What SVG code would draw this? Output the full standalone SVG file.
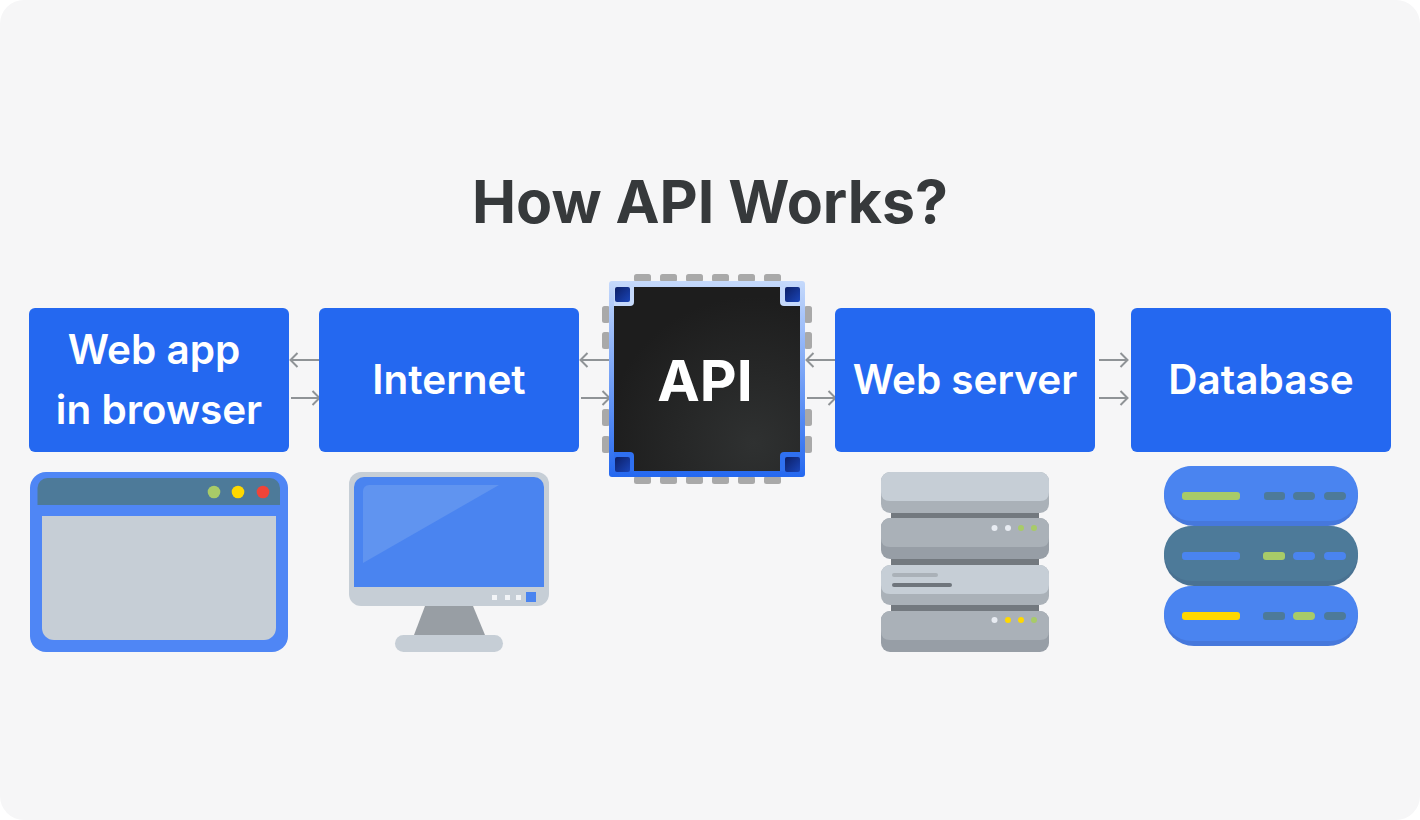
<svg xmlns="http://www.w3.org/2000/svg" width="1420" height="820" viewBox="0 0 1420 820">
<style>
text{font-family:Inter,"Liberation Sans",sans-serif;text-anchor:middle}
.t{font-weight:600;font-size:40.500px;fill:#fff}
.box{fill:#2468f0}
.pad{fill:#a9a9a9}
.conn{fill:none;stroke:#8f9396;stroke-width:2}
.su{fill:#aab1b8}.sd{fill:#979ea6}.lu{fill:#c6ced6}.ld{fill:#aab1b8}.sc{fill:#73797f}
.w{fill:#e8ecf2}.g{fill:#a8cb68}.y{fill:#ffd800}
.tl{fill:#4d7a99}.bl{fill:#4a84f0}
</style>
<defs>
<marker id="a" viewBox="0 0 10 16" markerWidth="10" markerHeight="16" refX="9" refY="8" orient="auto-start-reverse" markerUnits="userSpaceOnUse"><path d="M1.500 1L8.500 8L1.500 15" fill="none" stroke="#8f9396" stroke-width="2"/></marker>
<linearGradient id="rim" x1="0" y1="0" x2="0" y2="1"><stop offset="0" stop-color="#c5d9fb"/><stop offset="1" stop-color="#2468f0"/></linearGradient>
<radialGradient id="core" cx="0.75" cy="0.85" r="0.8"><stop offset="0" stop-color="#2f3131"/><stop offset="1" stop-color="#1d1d1d"/></radialGradient>
<linearGradient id="chipd" x1="0" y1="0" x2="1" y2="1"><stop offset="0" stop-color="#0c1f66"/><stop offset="1" stop-color="#1a45b8"/></linearGradient>
</defs>
<rect x="0" y="0" width="1420" height="820" rx="24" fill="#f6f6f7"/>
<text x="710" y="223" font-size="59" font-weight="700" fill="#36393b">How API Works?</text>
<g id="connectors" class="conn">
<path d="M319 360H290" marker-end="url(#a)"/>
<path d="M291 398H320" marker-end="url(#a)"/>
<path d="M609 360H580" marker-end="url(#a)"/>
<path d="M581 398H610" marker-end="url(#a)"/>
<path d="M835 360H806" marker-end="url(#a)"/>
<path d="M807 398H836" marker-end="url(#a)"/>
<path d="M1099 360H1128" marker-end="url(#a)"/>
<path d="M1099 398H1128" marker-end="url(#a)"/>
</g>
<g id="webapp">
<rect class="box" x="29" y="308" width="260" height="144" rx="6"/>
<text class="t" x="154" y="364">Web app</text>
<text class="t" x="159" y="424">in browser</text>
<rect x="30" y="472" width="258" height="180" rx="16" fill="#4f86f5"/>
<path d="M37.500 505V488A10 10 0 0 1 47.500 478H270A10 10 0 0 1 280 488V505Z" class="tl"/>
<path d="M42 516H276V628A12 12 0 0 1 264 640H54A12 12 0 0 1 42 628Z" fill="#c6ced6"/>
<circle cx="214" cy="492" r="6.300" class="g"/>
<circle cx="238" cy="492" r="6.300" class="y"/>
<circle cx="263" cy="492" r="6.300" fill="#f04438"/>
</g>
<g id="internet">
<rect class="box" x="319" y="308" width="260" height="144" rx="6"/>
<text class="t" x="449" y="394">Internet</text>
<path d="M425 606H473L485 635H414Z" fill="#989ea4"/>
<rect x="395" y="635" width="108" height="17" rx="8.500" fill="#c6ced6"/>
<rect x="349" y="472" width="200" height="134" rx="12" fill="#c6ced6"/>
<path d="M354 587V487A10 10 0 0 1 364 477H534A10 10 0 0 1 544 487V587Z" class="bl"/>
<path d="M363 491A6 6 0 0 1 369 485H499L363 563Z" fill="#6094f0"/>
<rect x="492" y="595" width="5" height="5" fill="#f2f4f7"/>
<rect x="505" y="595" width="5" height="5" fill="#f2f4f7"/>
<rect x="516" y="595" width="5" height="5" fill="#f2f4f7"/>
<rect x="526" y="592" width="10" height="10" class="bl"/>
</g>
<g id="api">
<g class="pad">
<rect x="634" y="274" width="17" height="8" rx="2.500"/><rect x="660" y="274" width="17" height="8" rx="2.500"/><rect x="686" y="274" width="17" height="8" rx="2.500"/><rect x="712" y="274" width="17" height="8" rx="2.500"/><rect x="738" y="274" width="17" height="8" rx="2.500"/><rect x="764" y="274" width="17" height="8" rx="2.500"/>
<rect x="634" y="476" width="17" height="8" rx="2.500"/><rect x="660" y="476" width="17" height="8" rx="2.500"/><rect x="686" y="476" width="17" height="8" rx="2.500"/><rect x="712" y="476" width="17" height="8" rx="2.500"/><rect x="738" y="476" width="17" height="8" rx="2.500"/><rect x="764" y="476" width="17" height="8" rx="2.500"/>
<rect x="602" y="306" width="8" height="17" rx="2.500"/><rect x="602" y="332" width="8" height="17" rx="2.500"/><rect x="602" y="409" width="8" height="17" rx="2.500"/><rect x="602" y="436" width="8" height="17" rx="2.500"/>
<rect x="804" y="306" width="8" height="17" rx="2.500"/><rect x="804" y="332" width="8" height="17" rx="2.500"/><rect x="804" y="409" width="8" height="17" rx="2.500"/><rect x="804" y="436" width="8" height="17" rx="2.500"/>
</g>
<rect x="609" y="281" width="196" height="196" rx="3" fill="url(#rim)"/>
<rect x="614" y="287" width="186" height="184" fill="url(#core)"/>
<path d="M614 287H634V302A4 4 0 0 1 630 306H614Z" fill="#c5d9fb"/>
<path d="M800 287H780V302A4 4 0 0 0 784 306H800Z" fill="#c5d9fb"/>
<path d="M614 471H634V456A4 4 0 0 0 630 452H614Z" fill="#2f70f0"/>
<path d="M800 471H780V456A4 4 0 0 1 784 452H800Z" fill="#2f70f0"/>
<rect x="615" y="287" width="15" height="15" rx="2" fill="url(#chipd)"/>
<rect x="785" y="287" width="15" height="15" rx="2" fill="url(#chipd)"/>
<rect x="615" y="457" width="15" height="15" rx="2" fill="url(#chipd)"/>
<rect x="785" y="457" width="15" height="15" rx="2" fill="url(#chipd)"/>
<text x="705" y="401" font-size="57" font-weight="700" fill="#fff">API</text>
</g>
<g id="webserver">
<rect class="box" x="835" y="308" width="260" height="144" rx="6"/>
<text class="t" x="965" y="394">Web server</text>
<rect class="sc" x="891" y="513" width="148" height="6"/>
<rect class="sc" x="891" y="559" width="148" height="6"/>
<rect class="sc" x="891" y="605" width="148" height="6"/>
<rect class="ld" x="881" y="472" width="168" height="41" rx="9"/>
<path class="lu" d="M881 481A9 9 0 0 1 890 472H1040A9 9 0 0 1 1049 481V492Q1049 501 1040 501H890Q881 501 881 492Z"/>
<rect class="sd" x="881" y="518" width="168" height="41" rx="9"/>
<path class="su" d="M881 527A9 9 0 0 1 890 518H1040A9 9 0 0 1 1049 527V538Q1049 547 1040 547H890Q881 547 881 538Z"/>
<rect class="ld" x="881" y="565" width="168" height="40" rx="9"/>
<path class="lu" d="M881 574A9 9 0 0 1 890 565H1040A9 9 0 0 1 1049 574V585Q1049 594 1040 594H890Q881 594 881 585Z"/>
<rect class="sd" x="881" y="611" width="168" height="41" rx="9"/>
<path class="su" d="M881 620A9 9 0 0 1 890 611H1040A9 9 0 0 1 1049 620V631Q1049 640 1040 640H890Q881 640 881 631Z"/>
<rect x="892" y="573" width="46" height="4" rx="2" fill="#aab1b8"/>
<rect x="892" y="583" width="60" height="4" rx="2" fill="#6f757c"/>
<circle class="w" cx="994.500" cy="528" r="3"/><circle class="w" cx="1008" cy="528" r="3"/><circle class="g" cx="1021" cy="528" r="3"/><circle class="g" cx="1034" cy="528" r="3"/>
<circle class="w" cx="994.500" cy="620" r="3"/><circle class="y" cx="1008" cy="620" r="3"/><circle class="y" cx="1021" cy="620" r="3"/><circle class="g" cx="1034" cy="620" r="3"/>
</g>
<g id="database">
<rect class="box" x="1131" y="308" width="260" height="144" rx="6"/>
<text class="t" x="1261" y="394">Database</text>
<rect x="1164" y="466" width="194" height="60" rx="30" fill="#4678dc"/>
<rect class="bl" x="1164" y="466" width="194" height="55" rx="27.500"/>
<rect x="1164" y="586" width="194" height="60" rx="30" fill="#4678dc"/>
<rect class="bl" x="1164" y="586" width="194" height="55" rx="27.500"/>
<rect x="1164" y="526" width="194" height="60" rx="30" fill="#4a7292"/>
<rect class="tl" x="1164" y="526" width="194" height="55" rx="27.500"/>
<rect class="g" x="1182" y="492" width="58" height="8" rx="3"/><rect class="tl" x="1264" y="492" width="21" height="8" rx="3"/><rect class="tl" x="1293" y="492" width="22" height="8" rx="4"/><rect class="tl" x="1324" y="492" width="22" height="8" rx="4"/>
<rect class="bl" x="1182" y="552" width="58" height="8" rx="3"/><rect class="g" x="1263" y="552" width="22" height="8" rx="3"/><rect class="bl" x="1293" y="552" width="22" height="8" rx="4"/><rect class="bl" x="1324" y="552" width="22" height="8" rx="4"/>
<rect class="y" x="1182" y="612" width="58" height="8" rx="3"/><rect class="tl" x="1263" y="612" width="22" height="8" rx="3"/><rect class="g" x="1293" y="612" width="22" height="8" rx="4"/><rect class="tl" x="1324" y="612" width="22" height="8" rx="4"/>
</g>
</svg>
